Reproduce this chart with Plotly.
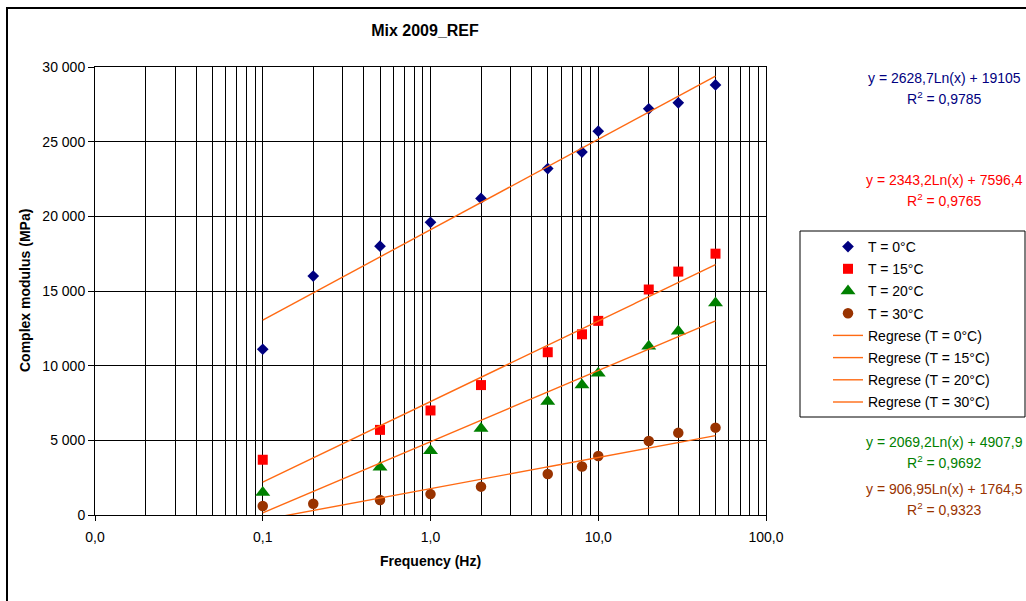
import numpy as np
import plotly.graph_objects as go

# ---- data -------------------------------------------------------------
freq_all = [0.1, 0.2, 0.5, 1, 2, 5, 8, 10, 20, 30, 50]
freq_no02 = [0.1, 0.5, 1, 2, 5, 8, 10, 20, 30, 50]

modulus_0C = [11100, 16000, 18000, 19600, 21200, 23200, 24300, 25700, 27200, 27600, 28800]
modulus_15C = [3700, 5700, 7000, 8700, 10900, 12100, 13000, 15100, 16300, 17500]
modulus_20C = [1500, 3200, 4300, 5800, 7600, 8700, 9500, 11300, 12300, 14200]
modulus_30C = [600, 750, 1000, 1400, 1900, 2750, 3250, 3950, 4950, 5500, 5850]

# logarithmic regression coefficients: y = a*Ln(x) + b
reg_a = [2628.7, 2343.2, 2069.2, 906.95]
reg_b = [19105, 7596.4, 4907.9, 1764.5]
reg_r2 = ["0,9785", "0,9765", "0,9692", "0,9323"]
reg_eq = ["y = 2628,7Ln(x) + 19105", "y = 2343,2Ln(x) + 7596,4",
          "y = 2069,2Ln(x) + 4907,9", "y = 906,95Ln(x) + 1764,5"]

series_names = ["T = 0°C", "T = 15°C", "T = 20°C", "T = 30°C"]
reg_names = ["Regrese (T = 0°C)", "Regrese (T = 15°C)",
             "Regrese (T = 20°C)", "Regrese (T = 30°C)"]

x_tickvals = [0.01, 0.1, 1, 10, 100]
x_ticktext = ["0,0", "0,1", "1,0", "10,0", "100,0"]
y_tickvals = [0, 5000, 10000, 15000, 20000, 25000, 30000]
y_ticktext = ["0", "5 000", "10 000", "15 000", "20 000", "25 000", "30 000"]

# ---- styling ----------------------------------------------------------
colors = ["#000080", "#FF0000", "#008000", "#993300"]
symbols = ["diamond", "square", "triangle-up", "circle"]
sizes = [9, 10, 13, 10.5]
trend_color = "#FF6A13"
FONT = "Liberation Sans, Arial, sans-serif"

W, H = 1026, 601
L, R, T, B = 95, 766, 67, 515   # plot area in pixels


def px_x(p):
    return (p - L) / (R - L)


def px_y(p):
    return (B - p) / (B - T)


fig = go.Figure()

xs_list = [freq_all, freq_no02, freq_no02, freq_all]
ys_list = [modulus_0C, modulus_15C, modulus_20C, modulus_30C]

for i in range(4):
    fig.add_trace(go.Scatter(
        x=xs_list[i], y=ys_list[i], mode="markers", name=series_names[i],
        legendgroup=f"g{i}",
        marker=dict(symbol=symbols[i], size=sizes[i], color=colors[i],
                    line=dict(width=0)),
        cliponaxis=False,
    ))

xfit = np.logspace(np.log10(0.1), np.log10(50), 200)
for i in range(4):
    fig.add_trace(go.Scatter(
        x=xfit, y=reg_a[i] * np.log(xfit) + reg_b[i], mode="lines",
        name=reg_names[i], legendgroup=f"r{i}",
        line=dict(color=trend_color, width=1.4),
        hoverinfo="skip",
    ))

minor_vals = [m * 10.0 ** e for e in range(-2, 2) for m in range(2, 10)]

fig.update_xaxes(
    type="log", range=[-2, 2],
    tickmode="array", tickvals=x_tickvals, ticktext=x_ticktext,
    ticks="outside", ticklen=5, tickcolor="black", ticklabelstandoff=4,
    showgrid=True, gridcolor="black", gridwidth=1,
    minor=dict(tickmode="array", tickvals=minor_vals, showgrid=True,
               gridcolor="black", gridwidth=1, ticks=""),
    showline=True, linecolor="black", linewidth=1, mirror=True,
    tickfont=dict(family=FONT, size=14, color="black"),
    zeroline=False,
)
fig.update_yaxes(
    range=[0, 30000],
    tickmode="array", tickvals=y_tickvals, ticktext=y_ticktext,
    ticks="outside", ticklen=6, tickcolor="black",
    showgrid=True, gridcolor="black", gridwidth=1,
    showline=True, linecolor="black", linewidth=1, mirror=True,
    tickfont=dict(family=FONT, size=14, color="black"),
    zeroline=False,
)

annotations = [
    dict(text="<b>Frequency (Hz)</b>", x=px_x(430), y=px_y(561),
         font=dict(size=14)),
    dict(text="<b>Complex modulus (MPa)</b>", x=px_x(25), y=px_y(291),
         textangle=-90, font=dict(size=14)),
]
eq_y = [(77.5, 98), (180, 199.5), (441.5, 461.5), (488.5, 508.5)]
for i in range(4):
    annotations.append(dict(text=reg_eq[i], x=px_x(944), y=px_y(eq_y[i][0]),
                            font=dict(size=14, color=colors[i])))
    annotations.append(dict(text=f"R<sup>2</sup> = {reg_r2[i]}", x=px_x(944),
                            y=px_y(eq_y[i][1]),
                            font=dict(size=14, color=colors[i])))
for a in annotations:
    a.update(xref="paper", yref="paper", showarrow=False,
             xanchor="center", yanchor="middle")
    a["font"].setdefault("color", "black")
    a["font"]["family"] = FONT

shapes = [
    # outer chart frame
    dict(type="rect", xref="paper", yref="paper",
         x0=px_x(7), x1=px_x(1040), y0=px_y(8), y1=px_y(620),
         line=dict(color="black", width=2), layer="below"),
    # legend frame
    dict(type="rect", xref="paper", yref="paper",
         x0=px_x(800), x1=px_x(1025), y0=px_y(231), y1=px_y(417),
         line=dict(color="black", width=1), fillcolor="rgba(0,0,0,0)"),
]

fig.update_layout(
    width=W, height=H,
    margin=dict(l=L, r=W - R, t=T, b=H - B, autoexpand=False),
    paper_bgcolor="white", plot_bgcolor="white",
    title=dict(text="<b>Mix 2009_REF</b>", xref="container", yref="container",
               x=425 / W, y=1 - 30 / H, xanchor="center", yanchor="middle",
               font=dict(family=FONT, size=16, color="black")),
    showlegend=True,
    legend=dict(x=px_x(828), y=px_y(231), xanchor="left", yanchor="top",
                bgcolor="rgba(0,0,0,0)", borderwidth=0,
                font=dict(family=FONT, size=14, color="black"),
                tracegroupgap=1, traceorder="grouped"),
    annotations=annotations,
    shapes=shapes,
)

fig.write_html("out.html")
